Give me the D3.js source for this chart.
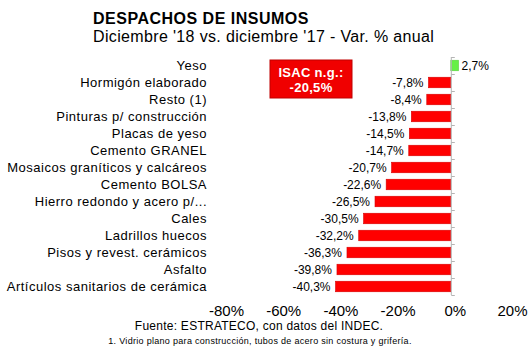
<!DOCTYPE html>
<html>
<head>
<meta charset="utf-8">
<script src="https://cdn.jsdelivr.net/npm/d3@7"></script>
<style>
  body { margin: 0; background: #fff; }
  text { font-family: "Liberation Sans", Arial, sans-serif; fill: #000; }
</style>
</head>
<body>
<script>
var width = 530;
var height = 354;

var categories = ['Yeso', 'Hormigón elaborado', 'Resto (1)', 'Pinturas p/ construcción',
    'Placas de yeso', 'Cemento GRANEL', 'Mosaicos graníticos y calcáreos', 'Cemento BOLSA',
    'Hierro redondo y acero p/...', 'Cales', 'Ladrillos huecos', 'Pisos y revest. cerámicos',
    'Asfalto', 'Artículos sanitarios de cerámica'];
var values = [2.7, -7.8, -8.4, -13.8, -14.5, -14.7, -20.7, -22.6, -26.5, -30.5, -32.2, -36.3, -39.8, -40.3];
var tickValues = [-80, -60, -40, -20, 0, 20];
var isac = ['ISAC n.g.:', '-20,5%'];

var data = categories.map((c, i) => { return { name: c, value: values[i] } });

var fmt = (v) => { return String(v.toFixed(1)).replace('.', ',') + '%' };

var svg = d3.select('body').append('svg')
    .attr('width', width)
    .attr('height', height);

var x = d3.scaleLinear()
    .domain([-80, 20])
    .range([222, 508]);

var y = d3.scaleBand()
    .domain(categories)
    .range([57, 295])
    .paddingInner(0.38)
    .paddingOuter(0.19);

// titles
svg.append('text')
    .attr('x', 93).attr('y', 24)
    .style('font-size', '16px').style('font-weight', 'bold')
    .style('letter-spacing', '0.5px')
    .text('DESPACHOS DE INSUMOS');

svg.append('text')
    .attr('x', 93).attr('y', 42)
    .style('font-size', '16px')
    .style('letter-spacing', '0.35px')
    .text("Diciembre '18 vs. diciembre '17 - Var. % anual");

// bars
svg.append('g')
    .selectAll('rect')
    .data(data)
    .enter().append('rect')
    .attr('x', (d) => { return x(Math.min(0, d.value)) })
    .attr('y', (d) => { return y(d.name) })
    .attr('width', (d) => { return Math.abs(x(d.value) - x(0)) })
    .attr('height', y.bandwidth())
    .attr('fill', (d) => { return d.value > 0 ? '#66f046' : '#ff0000' })
    .attr('stroke', (d) => { return d.value > 0 ? '#5ad040' : '#d80000' })
    .attr('stroke-width', 0.6);

// vertical axis at zero with ticks between categories
var step = y.step();
var yTop = y.range()[0];
var yBottom = y.range()[1];
svg.append('line')
    .attr('x1', x(0) + 0.5).attr('x2', x(0) + 0.5)
    .attr('y1', yTop).attr('y2', yBottom)
    .attr('stroke', '#b4b4b4');

svg.append('g')
    .selectAll('line')
    .data(d3.range(categories.length + 1))
    .enter().append('line')
    .attr('x1', x(0) + 0.5).attr('x2', x(0) + 4)
    .attr('y1', (i) => { return yTop + i * step + 0.5 })
    .attr('y2', (i) => { return yTop + i * step + 0.5 })
    .attr('stroke', '#b4b4b4');

// category labels
svg.append('g')
    .selectAll('text')
    .data(data)
    .enter().append('text')
    .attr('x', 207)
    .attr('y', (d) => { return y(d.name) + y.bandwidth() / 2 })
    .attr('dy', '0.35em')
    .attr('text-anchor', 'end')
    .style('font-size', '13px')
    .style('letter-spacing', '0.5px')
    .text((d) => { return d.name });

// value labels
svg.append('g')
    .selectAll('text')
    .data(data)
    .enter().append('text')
    .attr('x', (d) => { return d.value < 0 ? x(d.value) - 5 : x(d.value) + 3 })
    .attr('y', (d) => { return y(d.name) + y.bandwidth() / 2 })
    .attr('dy', '0.35em')
    .attr('text-anchor', (d) => { return d.value < 0 ? 'end' : 'start' })
    .style('font-size', '12px')
    .text((d) => { return fmt(d.value) });

// x axis tick labels, no line
var xAxis = svg.append('g')
    .attr('transform', 'translate(4,302)')
    .call(d3.axisBottom(x).tickValues(tickValues).tickSize(0).tickFormat((d) => { return d + '%' }));
xAxis.select('.domain').remove();
xAxis.selectAll('text')
    .style('font-size', '15px')
    .style('font-family', '"Liberation Sans", Arial, sans-serif');

// ISAC box
var box = svg.append('g');
box.append('rect')
    .attr('x', 270).attr('y', 60)
    .attr('width', 82).attr('height', 38)
    .attr('fill', '#f00000')
    .attr('stroke', '#c00000');
box.selectAll('text')
    .data(isac)
    .enter().append('text')
    .attr('x', 311)
    .attr('y', (d, i) => { return 77 + i * 15 })
    .attr('text-anchor', 'middle')
    .style('font-size', '13px').style('font-weight', 'bold')
    .style('letter-spacing', '0.3px')
    .style('fill', '#fff')
    .text((d) => { return d });

// source & note
svg.append('text')
    .attr('x', 259).attr('y', 330)
    .attr('text-anchor', 'middle')
    .style('font-size', '12px')
    .style('letter-spacing', '0.25px')
    .text('Fuente: ESTRATECO, con datos del INDEC.');

svg.append('text')
    .attr('x', 260).attr('y', 344)
    .attr('text-anchor', 'middle')
    .style('font-size', '9px')
    .style('letter-spacing', '0.3px')
    .text('1. Vidrio plano para construcción, tubos de acero sin costura y grifería.');
</script>
</body>
</html>
